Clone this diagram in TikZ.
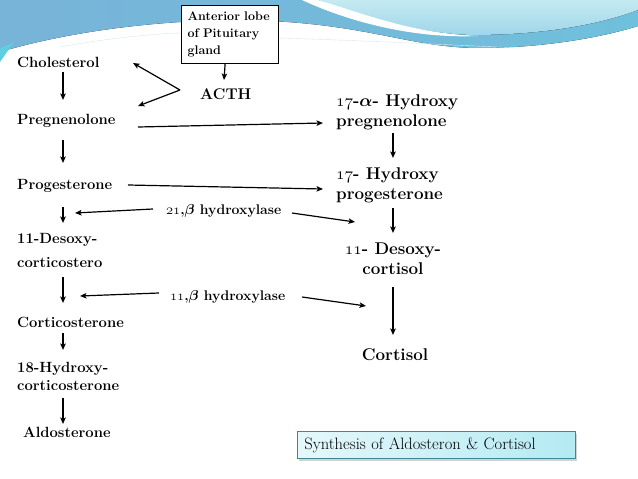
\documentclass[tikz,border=0pt]{standalone}
\usetikzlibrary{arrows.meta,calc,shadows}
\definecolor{bandL}{HTML}{78B3D8}
\definecolor{bandM}{HTML}{86C8E2}
\definecolor{bandR}{HTML}{6FC0DC}
\definecolor{lightC}{HTML}{C4EAF1}
\definecolor{lightD}{HTML}{9FD6EA}
\definecolor{edgeC}{HTML}{5CCFE0}
\definecolor{boxC}{HTML}{B4EAF2}
\definecolor{boxB}{HTML}{3E8796}
\newcommand\osn[1]{{\usefont{OML}{lmm}{b}{it}#1}}
\tikzset{
  lt/.style={inner sep=0pt, font=\fontsize{14.8}{24}\selectfont\bfseries\boldmath},
  rt/.style={inner sep=0pt, font=\fontsize{17}{19.5}\selectfont\bfseries\boldmath},
  lab/.style={inner sep=0pt, font=\fontsize{14}{16}\selectfont\bfseries\boldmath},
  arr/.style={-{Stealth[length=6.5pt,width=5.5pt,inset=1.5pt]}, line width=1.2pt, black},
}
\begin{document}
\begin{tikzpicture}[x=1pt,y=-1pt]
\useasboundingbox (0,0) rectangle (638,479);
\fill[white] (0,0) rectangle (638,479);
% top band
\fill[left color=bandL, right color=bandR] (0,0) -- (638,0) -- (638,26)
  .. controls (600,38) and (540,48) .. (480,48)
  .. controls (420,48) and (380,30) .. (300,23)
  .. controls (200,14) and (80,28) .. (0,52) -- cycle;
\fill[top color=lightC, bottom color=lightD] (318,0) -- (638,0) -- (638,10)
  .. controls (590,28) and (530,35) .. (472,35)
  .. controls (410,33) and (360,14) .. (318,0) -- cycle;
\fill[white] (318,0) .. controls (365,14) and (410,33) .. (478,36)
  .. controls (410,39) and (345,20) .. (302,0) -- cycle;
\fill[edgeC] (0,49) .. controls (5,46) and (10,44) .. (14,42) -- (0,62) -- cycle;
\draw[white!70!bandL, line width=0.4pt] (60,47) .. controls (110,38) and (150,34) .. (181,33);
\draw[white!70!bandL, line width=0.4pt] (278,38) .. controls (350,40) and (430,44) .. (520,48);
% pituitary box
\node[draw, line width=1.2pt, fill=white, anchor=north west, minimum width=97pt, minimum height=58pt,
  text width=85pt, inner xsep=6pt, inner ysep=0pt, align=left,
  font=\fontsize{12.5}{17}\selectfont\bfseries] (pit) at (181,5) {Anterior lobe\\of Pituitary\\gland};
\node[inner sep=0pt, anchor=base west, font=\fontsize{15.5}{18}\selectfont\bfseries] (acth) at (200,99) {ACTH};
% left column
\node[lt, anchor=base west] (chol) at (17,67) {Cholesterol};
\node[lt, anchor=base west] (preg) at (17,124) {Pregnenolone};
\node[lt, anchor=base west] (prog) at (17,189) {Progesterone};
\node[lt, anchor=north west, align=left] (doc) at (17,233) {11-Desoxy-\\corticostero};
\node[lt, anchor=base west] (cort) at (17,327) {Corticosterone};
\node[lt, anchor=north west, align=left, font=\fontsize{14.8}{18.5}\selectfont\bfseries] (hoc) at (17,362) {18-Hydroxy-\\corticosterone};
\node[lt, anchor=base west] (aldo) at (23,437) {Aldosterone};
% right column
\node[rt, anchor=north west, align=left] (hp) at (336,95) {\osn{17}-$\alpha$- Hydroxy\\pregnenolone};
\node[rt, anchor=north west, align=left] (hpr) at (336,168) {\osn{17}- Hydroxy\\progesterone};
\node[rt, anchor=north, align=center] (docR) at (393,243) {\osn{11}- Desoxy-\\cortisol};
\node[rt, anchor=base] (cortisol) at (395,360) {Cortisol};
% enzyme labels
\node[lab, anchor=base west] (h21) at (166,214) {\osn{21},$\beta$ hydroxylase};
\node[lab, anchor=base west] (h11) at (170,300) {\osn{11},$\beta$ hydroxylase};
% caption box
\node[draw=boxB, line width=0.8pt, left color=boxC!35!white, right color=boxC,
  drop shadow={shadow xshift=1.5pt, shadow yshift=-2.5pt, opacity=0.35},
  anchor=north west, minimum width=278pt, minimum height=27pt, text width=264pt,
  inner xsep=7pt, align=left, font=\fontsize{16.5}{18}\selectfont] (syn) at (297,431)
  {Synthesis of Aldosteron \& Cortisol};
% arrows: pituitary and ACTH
\draw[arr] ($(pit.south)+(-5,0)$) -- ($(acth.base west)+(24,-19)$);
\coordinate (apex) at ($(acth.base west)+(-20,-9)$);
\draw[arr] (apex) -- ($(chol.base west)+(116,-4)$);
\draw[arr] (apex) -- ($(preg.base west)+(121,-18)$);
% left vertical chain
\draw[arr] ($(chol.base west)+(46,5)$) -- ($(preg.base west)+(46,-24)$);
\draw[arr] ($(preg.base west)+(46,16)$) -- ($(prog.base west)+(46,-26)$);
\draw[arr] ($(prog.base west)+(46,18)$) -- ($(doc.north west)+(46,-10)$);
\draw[arr] ($(doc.north west)+(46,44)$) -- ($(cort.base west)+(46,-24)$);
\draw[arr] ($(cort.base west)+(46,6)$) -- ($(hoc.north west)+(46,-12)$);
\draw[arr] ($(hoc.north west)+(46,36)$) -- ($(aldo.base west)+(40,-13)$);
% horizontal
\draw[arr] ($(preg.base west)+(121,3)$) -- ($(hp.north west)+(-13,28)$);
\draw[arr] ($(prog.base west)+(111,-4)$) -- ($(hpr.north west)+(-13,21)$);
% right vertical chain
\draw[arr] ($(hp.north west)+(57,38)$) -- ($(hpr.north west)+(57,-10)$);
\draw[arr] ($(hpr.north west)+(57,40)$) -- ($(docR.north)+(0,-10)$);
\draw[arr] ($(docR.north)+(0,44)$) -- ($(cortisol.base)+(-2,-25)$);
% enzyme arrows
\draw[arr] ($(h21.base west)+(-13,-5)$) -- ($(prog.base west)+(58,24)$);
\draw[arr] ($(h21.base west)+(126,-1)$) -- ($(hpr.north west)+(19,54)$);
\draw[arr] ($(h11.base west)+(-11,-7)$) -- ($(doc.north west)+(63,63)$);
\draw[arr] ($(h11.base west)+(132,-3)$) -- ($(docR.north)+(-27,63)$);
\end{tikzpicture}
\end{document}
